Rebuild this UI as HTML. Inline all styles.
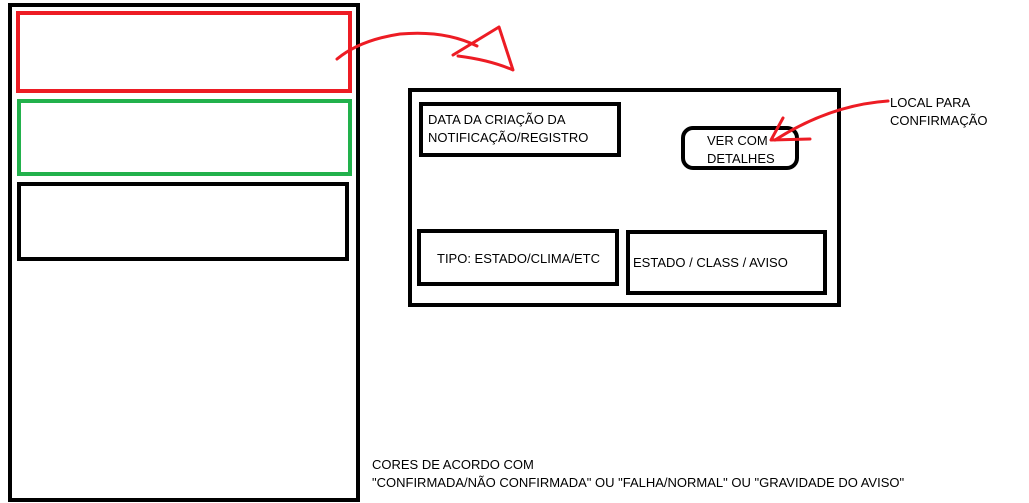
<!DOCTYPE html>
<html><head><meta charset="utf-8"><style>
body{margin:0;width:1029px;height:503px;background:#fff;overflow:hidden;position:relative;font-family:"Liberation Sans",sans-serif;font-size:13px;color:#000}
.b{position:absolute;box-sizing:border-box;border:4px solid #000}
.t{position:absolute;line-height:18px;white-space:nowrap}
</style></head><body>
<div class="b" style="left:8px;top:3px;width:352px;height:499px"></div>
<div class="b" style="left:16px;top:11px;width:336px;height:82px;border-color:#ed1c24"></div>
<div class="b" style="left:17px;top:99px;width:335px;height:77px;border-color:#22b14c"></div>
<div class="b" style="left:17px;top:182px;width:332px;height:79px"></div>
<div class="b" style="left:408px;top:88px;width:433px;height:219px"></div>
<div class="b" style="left:419px;top:102px;width:202px;height:55px"></div>
<div class="b" style="left:681px;top:126px;width:118px;height:44px;border-radius:12px"></div>
<div class="b" style="left:417px;top:229px;width:202px;height:57px"></div>
<div class="b" style="left:626px;top:230px;width:201px;height:65px"></div>
<div class="t" style="left:428px;top:111px">DATA DA CRIAÇÃO DA<br>NOTIFICAÇÃO/REGISTRO</div>
<div class="t" style="left:707px;top:132px">VER COM<br>DETALHES</div>
<div class="t" style="left:437px;top:250px">TIPO: ESTADO/CLIMA/ETC</div>
<div class="t" style="left:633px;top:254px">ESTADO / CLASS / AVISO</div>
<div class="t" style="left:890px;top:94px">LOCAL PARA<br>CONFIRMAÇÃO</div>
<div class="t" style="left:372px;top:456px">CORES DE ACORDO COM<br>"CONFIRMADA/NÃO CONFIRMADA" OU "FALHA/NORMAL" OU "GRAVIDADE DO AVISO"</div>
<svg style="position:absolute;left:0;top:0" width="1029" height="503" fill="none" stroke="#ed1c24" stroke-width="3" stroke-linecap="round" stroke-linejoin="round">
<path d="M337 59 Q360 40 400 34 Q445 30 477 46"/>
<path d="M453 55 L499 27 L513 70 Q490 60 458 56"/>
<path d="M888 101 Q830 105 775 140"/>
<path d="M783 118 L771 140 L810 139"/>
</svg>
</body></html>
